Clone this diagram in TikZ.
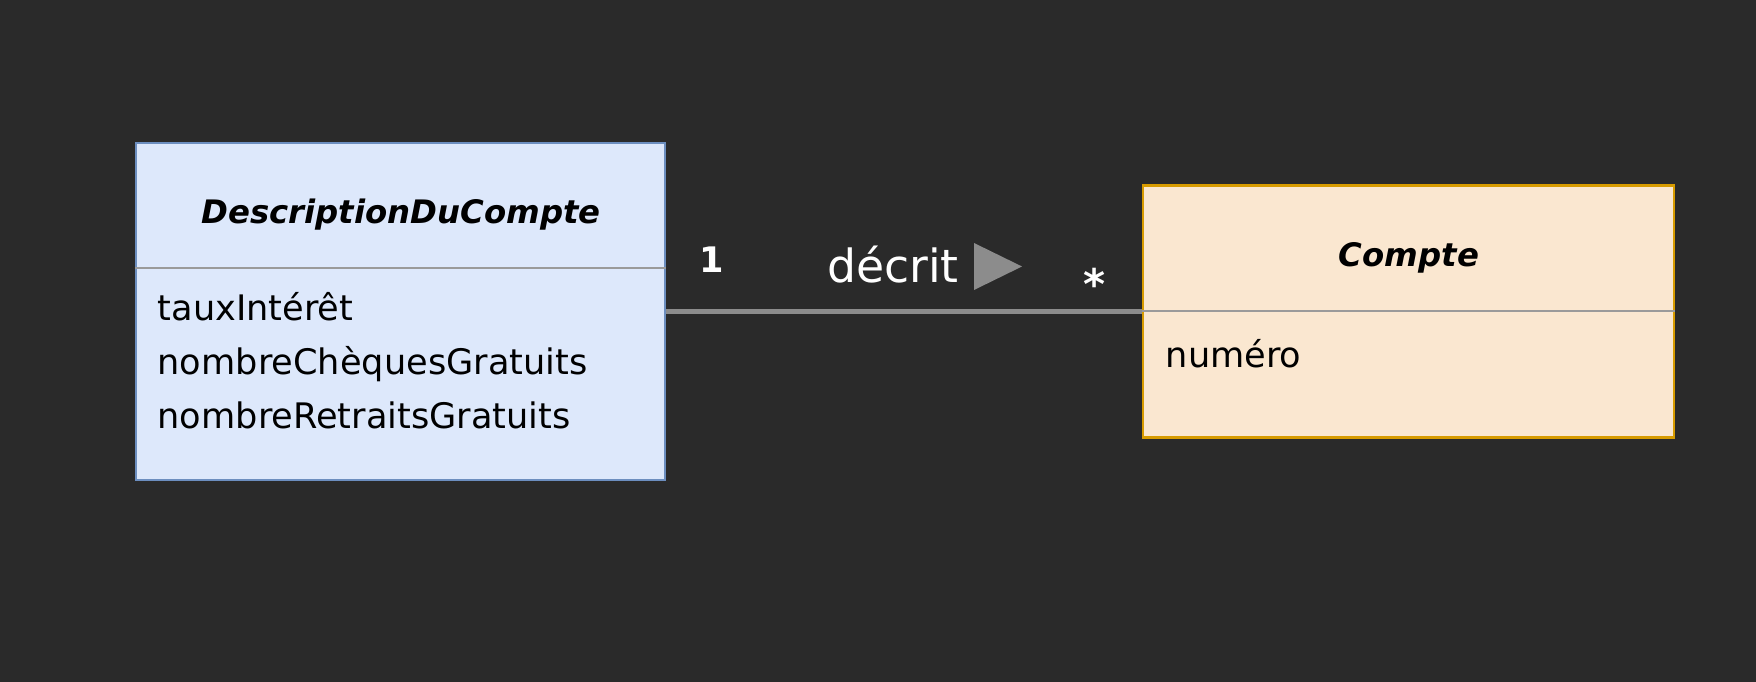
\documentclass[tikz,border=0pt]{standalone}
\usepackage{fontspec}
\setmainfont{DejaVu Sans}
\usepackage{tikz}

\definecolor{fond}{HTML}{2A2A2A}
\definecolor{bleuclair}{HTML}{DDE8FB}
\definecolor{bleu}{HTML}{6C8EBF}
\definecolor{orangeclair}{HTML}{FAE7D0}
\definecolor{orange}{HTML}{D79B00}
\definecolor{gris}{HTML}{8C8C8C}
\definecolor{grisligne}{HTML}{9A9A9A}

\tikzset{
	classe/.style={draw, line width=0.6pt, inner sep=0pt},
	separateur/.style={draw=grisligne, line width=0.6pt},
	titre/.style={font=\fontsize{9.2}{11}\selectfont\bfseries\itshape, text=black},
	attributs/.style={font=\fontsize{10}{15.4}\selectfont, text=black, align=left, inner sep=0pt},
	etiquette/.style={text=white, inner sep=0pt},
	lien/.style={draw=gris, line width=1.4pt}
}

\begin{document}
\begin{tikzpicture}
				\fill[fond] (0,0) rectangle (17.56,6.82);
				\useasboundingbox (0,0) rectangle (17.56,6.82);
				% classe de gauche
				\node[classe, fill=bleuclair, draw=bleu, minimum width=5.29cm, minimum height=3.37cm] (desc) at (4.005,3.705) {};
				\draw[separateur] (desc.west |- 0,4.14) -- (desc.east |- 0,4.14);
				\node[titre] (desctitre) at (4.01,4.67) {DescriptionDuCompte};
				\node[attributs, anchor=west] (descattr) at (1.57,3.21) {tauxIntérêt\\nombreChèquesGratuits\\nombreRetraitsGratuits};
				% classe de droite
				\node[classe, fill=orangeclair, draw=orange, minimum width=5.31cm, minimum height=2.52cm] (compte) at (14.085,3.705) {};
				\draw[separateur] (compte.west |- 0,3.71) -- (compte.east |- 0,3.71);
				\node[titre] (comptetitre) at (14.09,4.24) {Compte};
				\node[attributs, anchor=west] (compteattr) at (11.65,3.28) {numéro};
				% association
				\draw[lien] (desc.east) -- (compte.west);
				\node[etiquette, font=\fontsize{10}{12}\selectfont\bfseries] (mult1) at (7.12,4.22) {1};
				\node[etiquette, font=\fontsize{13}{15}\selectfont] (decrit) at (8.93,4.17) {décrit};
				\fill[gris] (9.74,4.39) -- (10.22,4.155) -- (9.74,3.92) -- cycle;
				\node[etiquette, font=\fontsize{12}{14}\selectfont\bfseries, anchor=center] (multn) at (10.95,3.98) {*};
\end{tikzpicture}
\end{document}
